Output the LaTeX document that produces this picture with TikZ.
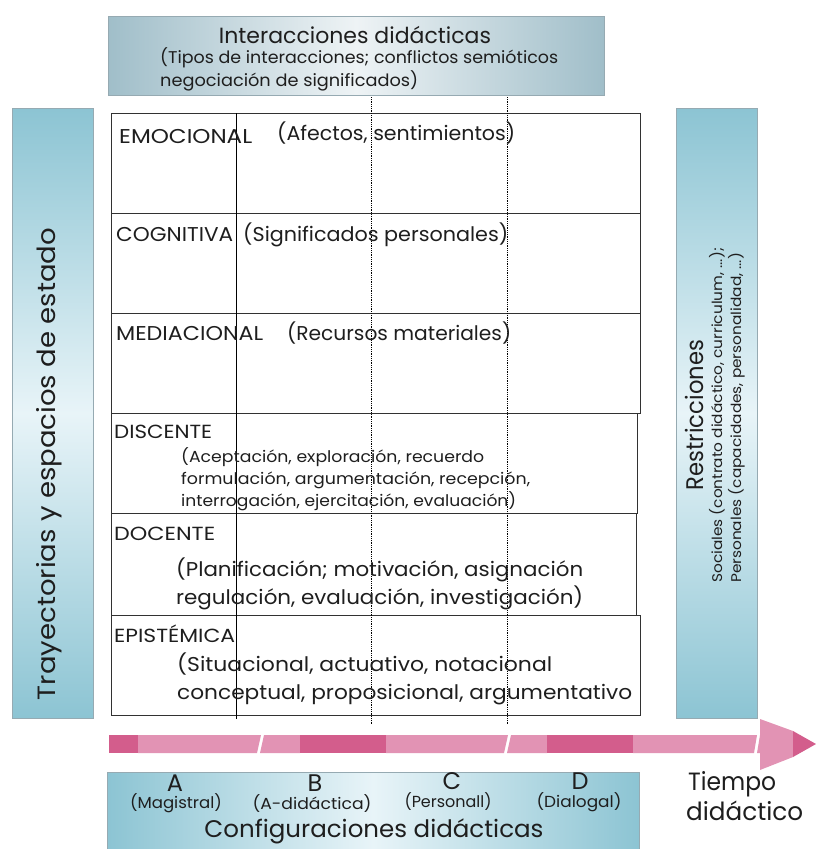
\documentclass[tikz,border=0pt]{standalone}
\usepackage{fontspec}
\usepackage{graphicx}
\setmainfont{Poppins}
\definecolor{topedge}{RGB}{160,190,201}
\definecolor{topmid}{RGB}{238,243,245}
\definecolor{sideedge}{RGB}{140,196,211}
\definecolor{sidemid}{RGB}{232,244,248}
\definecolor{boxline}{RGB}{150,170,178}
\definecolor{pinkdark}{RGB}{211,93,140}
\definecolor{pinklight}{RGB}{226,147,180}
\definecolor{rowline}{RGB}{50,50,50}
\definecolor{ink}{RGB}{30,30,30}
% font size in pt, and a text set to a given width at its natural height
\newcommand{\fs}[1]{\fontsize{#1}{#1}\selectfont}
\newcommand{\tw}[3]{\resizebox{#1pt}{\height}{\fs{#2}#3}}
\tikzset{
  hbox/.style={draw=boxline, line width=0.6pt, left color=topedge, right color=topedge, middle color=topmid, inner sep=0, anchor=north west},
  bbox/.style={draw=boxline, line width=0.6pt, left color=sideedge, right color=sideedge, middle color=sidemid, inner sep=0, anchor=north west},
  vbox/.style={draw=boxline, line width=0.6pt, top color=sideedge, bottom color=sideedge, middle color=sidemid, inner sep=0, anchor=north west},
  rowbox/.style={draw=rowline, line width=0.9pt, inner sep=0, anchor=north west, minimum height=100pt},
  lbl/.style={inner sep=0, anchor=base west, text=ink},
  ctr/.style={inner sep=0, anchor=base, text=ink},
  vlbl/.style={inner sep=0, rotate=90, anchor=base, text=ink},
  vlblw/.style={inner sep=0, rotate=90, anchor=base west, text=ink},
}
\begin{document}
\begin{tikzpicture}[x=1pt,y=-1pt]
\useasboundingbox (0,0) rectangle (816,849);

% framing boxes
\node[hbox, minimum width=496pt, minimum height=79pt] (inter) at (108,16) {};
\node[vbox, minimum width=81pt, minimum height=610pt] (tray) at (12,108) {};
\node[vbox, minimum width=81pt, minimum height=610pt] (restr) at (676,108) {};
\node[bbox, minimum width=532pt, minimum height=80pt] (config) at (107,772) {};

% top box text
\node[ctr] (intert) at (355,43) {\fs{22}Interacciones didácticas};
\node[lbl] (inter1) at (160,63) {\tw{398}{17}{(Tipos de interacciones; conflictos semióticos}};
\node[lbl] (inter2) at (160,86) {\tw{258}{17}{negociación de significados)}};

% side box texts
\node[vlbl] (trayt) at (55,464) {\tw{472}{25}{Trayectorias y espacios de estado}};
\node[vlbl] (restrt) at (703,415) {\tw{150}{24}{Restricciones}};
\node[vlblw] (restr1) at (722,583) {\tw{335}{14}{Sociales (contrato didáctico, curriculum, ...);}};
\node[vlblw] (restr2) at (741,583) {\tw{330}{14}{Personales (capacidades, personalidad, ...)}};

% the six rows
\node[rowbox, minimum width=529pt] (emo) at (111,113) {};
\node[rowbox, minimum width=529pt] (cog) at (111,213) {};
\node[rowbox, minimum width=529pt] (med) at (111,313) {};
\node[rowbox, minimum width=526pt] (dis) at (111,413) {};
\node[rowbox, minimum width=525pt, minimum height=102pt] (doc) at (111,513) {};
\node[rowbox, minimum width=529pt] (epi) at (111,615) {};

% column lines
\coordinate (c1t) at (236,113);
\coordinate (c1b) at (236,719);
\coordinate (c2t) at (371,97);
\coordinate (c2b) at (371,725);
\coordinate (c3t) at (507,97);
\coordinate (c3b) at (507,725);
\draw[line width=0.9pt, black] (c1t) -- (c1b);
\draw[densely dotted, line width=0.8pt, black] (c2t) -- (c2b);
\draw[densely dotted, line width=0.8pt, black] (c3t) -- (c3b);

% row texts
\node[lbl] (emol) at (119,143) {\tw{133}{20}{EMOCIONAL}};
\node[lbl] (emot) at (277,140) {\tw{238}{20}{(Afectos, sentimientos)}};
\node[lbl] (cogl) at (116,241) {\tw{117}{20}{COGNITIVA}};
\node[lbl] (cogt) at (243,241) {\tw{265}{20}{(Significados personales)}};
\node[lbl] (medl) at (116,340) {\tw{147}{20}{MEDIACIONAL}};
\node[lbl] (medt) at (287,340) {\tw{224}{20}{(Recursos materiales)}};
\node[lbl] (disl) at (114,438) {\tw{98}{19}{DISCENTE}};
\node[lbl] (dis1) at (181,462) {\tw{303}{16}{(Aceptación, exploración, recuerdo}};
\node[lbl] (dis2) at (181,484) {\tw{349}{16}{formulación, argumentación, recepción,}};
\node[lbl] (dis3) at (181,506) {\tw{335}{16}{interrogación, ejercitación, evaluación)}};
\node[lbl] (docl) at (114,540) {\tw{101}{19}{DOCENTE}};
\node[lbl] (doc1) at (176,576) {\tw{407}{20}{(Planificación; motivación, asignación}};
\node[lbl] (doc2) at (176,604) {\tw{407}{20}{regulación, evaluación, investigación)}};
\node[lbl] (epil) at (114,642) {\tw{121}{19}{EPISTÉMICA}};
\node[lbl] (epi1) at (177,671) {\tw{375}{20}{(Situacional, actuativo, notacional}};
\node[lbl] (epi2) at (177,699) {\tw{455}{20}{conceptual, proposicional, argumentativo}};

% time arrow
\fill[pinkdark] (109,735) rectangle (138,753);
\fill[pinklight] (138,735) -- (261,735) -- (257,753) -- (138,753) -- cycle;
\fill[pinklight] (264,735) -- (300,735) -- (300,753) -- (260,753) -- cycle;
\fill[pinkdark] (300,735) rectangle (386,753);
\fill[pinklight] (386,735) -- (508,735) -- (504,753) -- (386,753) -- cycle;
\fill[pinklight] (511,735) -- (547,735) -- (547,753) -- (507,753) -- cycle;
\fill[pinkdark] (547,735) rectangle (633,753);
\fill[pinklight] (633,735) -- (757,735) -- (754,753) -- (633,753) -- cycle;
\fill[pinklight] (760,735) -- (760,719) -- (793,731) -- (793,757) -- (760,770) -- (760,753) -- (757,753) -- cycle;
\fill[pinkdark] (793,731) -- (816,744) -- (793,757) -- cycle;

% configurations
\node[ctr] (ca) at (175,791) {\fs{24}A};
\node[ctr] (cb) at (315,791) {\fs{24}B};
\node[ctr] (cc) at (452,789) {\fs{24}C};
\node[ctr] (cd) at (580,789) {\fs{24}D};
\node[ctr] (cam) at (176,808) {\tw{92}{16}{(Magistral)}};
\node[ctr] (cbm) at (312,809) {\tw{119}{16}{(A-didáctica)}};
\node[ctr] (ccm) at (448,807) {\tw{87}{16}{(Personall)}};
\node[ctr] (cdm) at (579,807) {\tw{85}{16}{(Dialogal)}};
\node[ctr] (conft) at (374,837) {\tw{339}{24}{Configuraciones didácticas}};

\node[lbl] (tiempo) at (688,790) {\tw{88}{25}{Tiempo}};
\node[lbl] (didac) at (686,820) {\tw{117}{25}{didáctico}};
\end{tikzpicture}
\end{document}
